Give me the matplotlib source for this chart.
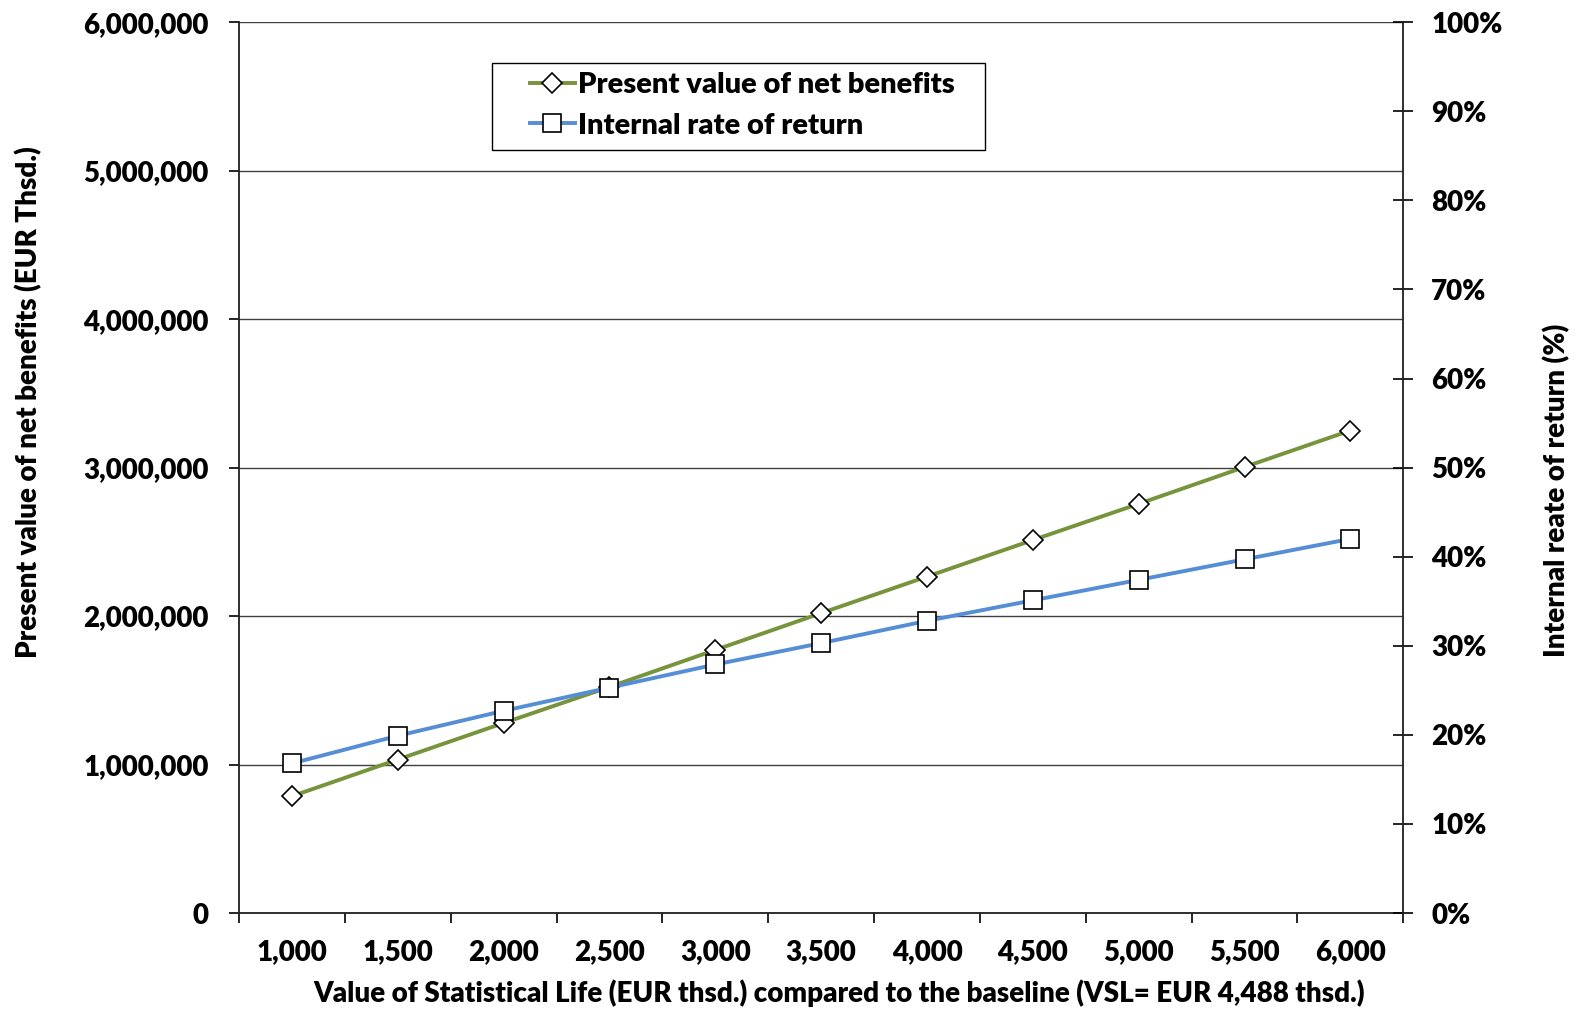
import matplotlib.pyplot as plt
from matplotlib.patches import Rectangle
from matplotlib.ticker import FuncFormatter, MultipleLocator, FixedLocator

#---------------------------------
# Data
#---------------------------------

vsl_labels = ["1,000", "1,500", "2,000", "2,500", "3,000", "3,500",
              "4,000", "4,500", "5,000", "5,500", "6,000"]

pv_net_benefits = [787000, 1034000, 1280000, 1523000, 1772000, 2020000,
                   2266000, 2512000, 2756000, 3004000, 3250000]

irr_pct = [16.8, 19.9, 22.7, 25.3, 27.9, 30.3,
           32.8, 35.1, 37.4, 39.7, 42.0]

GREEN = "#77933C"
BLUE = "#558ED5"
FONT = "Lato"
WEIGHT = "heavy"
FS = 20

#---------------------------------
# Figure
#---------------------------------

plt.rcParams["font.family"] = [FONT, "DejaVu Sans"]
plt.rcParams["font.weight"] = WEIGHT

fig = plt.figure(figsize=(15.79, 10.09), dpi=100)
ax = fig.add_axes([0.1514, 0.0951, 0.7373, 0.8829])
ax2 = ax.twinx()

x = list(range(len(vsl_labels)))

line_pv, = ax.plot(x, pv_net_benefits, color=GREEN, lw=2.8, marker="D",
                   ms=10.5, mfc="white", mec="black", mew=1.2,
                   label="Present value of net benefits")
line_irr, = ax2.plot(x, irr_pct, color=BLUE, lw=2.8, marker="s",
                     ms=13, mfc="white", mec="black", mew=1.2,
                     label="Internal rate of return")

# left axis
ax.set_xlim(-0.5, len(x) - 0.5)
ax.set_ylim(0, 6000000)
ax.yaxis.set_major_locator(MultipleLocator(1000000))
ax.yaxis.set_major_formatter(FuncFormatter(lambda v, p: f"{int(v):,}"))
ax.grid(axis="y", color="#404040", lw=1.0)
ax.set_axisbelow(True)

# x axis: categories, ticks between them
ax.set_xticks(x)
ax.set_xticklabels(vsl_labels)
ax.xaxis.set_minor_locator(FixedLocator([i - 0.5 for i in range(len(x) + 1)]))
ax.tick_params(axis="x", which="major", length=0, pad=19, labelsize=FS)
ax.tick_params(axis="x", which="minor", length=7, width=1.2, direction="out")
ax.tick_params(axis="y", length=7, width=1.2, direction="out", pad=15, labelsize=FS)

# right axis
ax2.set_ylim(0, 100)
ax2.yaxis.set_major_locator(MultipleLocator(10))
ax2.yaxis.set_major_formatter(FuncFormatter(lambda v, p: f"{int(v)}%"))
ax2.tick_params(axis="y", length=14, width=1.2, direction="inout", pad=13, labelsize=FS)

for a in (ax, ax2):
    a.spines["top"].set_visible(False)
    for s in a.spines.values():
        s.set_linewidth(1.3)
        s.set_color("#202020")
ax.spines["right"].set_visible(False)
ax2.spines["left"].set_visible(False)
ax2.spines["bottom"].set_visible(False)

for lab in ax.get_xticklabels() + ax.get_yticklabels() + ax2.get_yticklabels():
    lab.set_fontweight(WEIGHT)

# axis titles
ax.set_ylabel("Present value of net benefits (EUR Thsd.)", fontsize=FS, fontweight=WEIGHT)
ax.yaxis.set_label_coords(-0.169, 0.573)
ax2.set_ylabel("Internal reate of return (%)", fontsize=FS, fontweight=WEIGHT,
               rotation=90)
ax2.yaxis.set_label_coords(1.12, 0.474)
ax.set_xlabel("Value of Statistical Life (EUR thsd.) compared to the baseline (VSL= EUR 4,488 thsd.)",
              fontsize=FS, fontweight=WEIGHT)
ax.xaxis.set_label_coords(0.515, -0.074)

# legend: box drawn separately (Excel-style wide left inset)
box = Rectangle((0.3119, 0.8513), 0.3118, 0.0858, transform=fig.transFigure,
                facecolor="white", edgecolor="black", lw=1.0, zorder=4,
                clip_on=False)
ax2.add_artist(box)
leg = ax2.legend(handles=[line_pv, line_irr], loc="center left",
                 bbox_to_anchor=(0.3355, 0.8957), bbox_transform=fig.transFigure,
                 frameon=False, prop={"size": 21, "weight": WEIGHT, "family": FONT},
                 handlelength=1.55, handletextpad=0.1, borderpad=0,
                 labelspacing=0.5, borderaxespad=0)
leg.set_zorder(5)

fig.savefig("out.png", dpi=100)
